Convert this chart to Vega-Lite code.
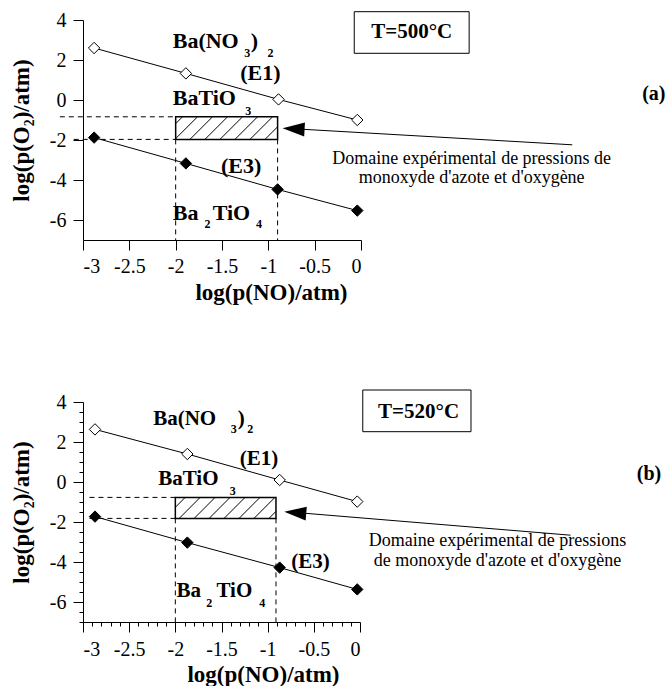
{
  "$schema": "https://vega.github.io/schema/vega-lite/v6.json",
  "padding": {"left": 10, "top": 10, "right": 0, "bottom": 0},
  "spacing": 85,
  "config": {
    "view": {"stroke": null},
    "font": "Liberation Serif",
    "axis": {"grid": false, "domainColor": "black", "tickColor": "black", "labelColor": "black", "titleColor": "black",
      "labelFont": "Liberation Serif", "titleFont": "Liberation Serif", "labelFontSize": 20, "titleFontSize": 23,
      "titleFontWeight": "bold", "tickSize": 10, "domainWidth": 1, "tickWidth": 1},
    "axisX": {"labelPadding": 6, "titlePadding": 5},
    "axisY": {"labelPadding": 7, "titlePadding": 16}
  },
  "datasets": {
    "ptsA": [
      {"s": "E1", "x": -2.88, "y": 2.6}, {"s": "E1", "x": -1.89, "y": 1.33}, {"s": "E1", "x": -0.89, "y": 0.03}, {"s": "E1", "x": -0.04, "y": -1.0},
      {"s": "E3", "x": -2.88, "y": -1.88}, {"s": "E3", "x": -1.89, "y": -3.17}, {"s": "E3", "x": -0.9, "y": -4.47}, {"s": "E3", "x": -0.04, "y": -5.53}
    ],
    "ptsB": [
      {"s": "E1", "x": -2.87, "y": 2.63}, {"s": "E1", "x": -1.87, "y": 1.4}, {"s": "E1", "x": -0.87, "y": 0.1}, {"s": "E1", "x": -0.03, "y": -0.98},
      {"s": "E3", "x": -2.87, "y": -1.73}, {"s": "E3", "x": -1.87, "y": -3.03}, {"s": "E3", "x": -0.87, "y": -4.28}, {"s": "E3", "x": -0.03, "y": -5.37}
    ],
    "dashA": [
      {"x": -3.25, "y": -0.84, "x2": -2, "y2": -0.84}, {"x": -3.1, "y": -1.97, "x2": -2, "y2": -1.97},
      {"x": -2, "y": -1.97, "x2": -2, "y2": -7}, {"x": -0.9, "y": -1.97, "x2": -0.9, "y2": -7}
    ],
    "dashB": [
      {"x": -2.93, "y": -0.77, "x2": -2, "y2": -0.77}, {"x": -2.93, "y": -1.82, "x2": -2, "y2": -1.82},
      {"x": -2, "y": -1.82, "x2": -2, "y2": -7}, {"x": -0.91, "y": -1.82, "x2": -0.91, "y2": -7}
    ],
    "boxA": [{"x": -2, "x2": -0.9, "y": -0.84, "y2": -1.97}],
    "boxB": [{"x": -2, "x2": -0.91, "y": -0.77, "y2": -1.82}],
    "hatchA": [
      {"x": -2.0, "y": -1.183, "x2": -1.926, "y2": -0.84},
      {"x": -2.0, "y": -1.93, "x2": -1.764, "y2": -0.84},
      {"x": -1.846, "y": -1.97, "x2": -1.602, "y2": -0.84},
      {"x": -1.684, "y": -1.97, "x2": -1.44, "y2": -0.84},
      {"x": -1.522, "y": -1.97, "x2": -1.278, "y2": -0.84},
      {"x": -1.36, "y": -1.97, "x2": -1.116, "y2": -0.84},
      {"x": -1.198, "y": -1.97, "x2": -0.954, "y2": -0.84},
      {"x": -1.036, "y": -1.97, "x2": -0.9, "y2": -1.34}
    ],
    "hatchB": [
      {"x": -2.0, "y": -1.265, "x2": -1.893, "y2": -0.77},
      {"x": -1.958, "y": -1.82, "x2": -1.731, "y2": -0.77},
      {"x": -1.796, "y": -1.82, "x2": -1.569, "y2": -0.77},
      {"x": -1.634, "y": -1.82, "x2": -1.407, "y2": -0.77},
      {"x": -1.472, "y": -1.82, "x2": -1.245, "y2": -0.77},
      {"x": -1.31, "y": -1.82, "x2": -1.083, "y2": -0.77},
      {"x": -1.148, "y": -1.82, "x2": -0.921, "y2": -0.77},
      {"x": -0.986, "y": -1.82, "x2": -0.91, "y2": -1.468}
    ],
    "shaftA": [{"x": 2.28, "y": -2.24, "x2": -0.8, "y2": -1.418}],
    "headA": [{"x": -0.846, "y": -1.415}],
    "shaftB": [{"x": 2.28, "y": -2.66, "x2": -0.78, "y2": -1.493}],
    "headB": [{"x": -0.82, "y": -1.49}],
    "labA": [
      {"t": "Ba(NO", "x": -2.032, "y": 2.585}, {"t": ")", "x": -1.19, "y": 2.585},
      {"t": "(E1)", "x": -1.303, "y": 1.0}, {"t": "BaTiO", "x": -2.032, "y": -0.25},
      {"t": "(E3)", "x": -1.511, "y": -3.67}, {"t": "Ba", "x": -2.032, "y": -6.0}, {"t": "TiO", "x": -1.6, "y": -6.0}
    ],
    "subA": [
      {"t": "3", "x": -1.26, "y": 2.15}, {"t": "2", "x": -1.01, "y": 2.15}, {"t": "3", "x": -1.25, "y": -0.75},
      {"t": "2", "x": -1.69, "y": -6.42}, {"t": "4", "x": -1.134, "y": -6.42}
    ],
    "labB": [
      {"t": "Ba(NO", "x": -2.24, "y": 2.85}, {"t": ")", "x": -1.325, "y": 2.85},
      {"t": "(E1)", "x": -1.303, "y": 0.85}, {"t": "BaTiO", "x": -2.186, "y": -0.15},
      {"t": "(E3)", "x": -0.744, "y": -4.32}, {"t": "Ba", "x": -1.987, "y": -5.73}, {"t": "TiO", "x": -1.555, "y": -5.73}
    ],
    "subB": [
      {"t": "3", "x": -1.4, "y": 2.45}, {"t": "2", "x": -1.22, "y": 2.45}, {"t": "3", "x": -1.41, "y": -0.65},
      {"t": "2", "x": -1.664, "y": -6.23}, {"t": "4", "x": -1.09, "y": -6.23}
    ],
    "noteA": [
      {"t": "Domaine expérimental de pressions de", "x": 1.194, "y": -3.2},
      {"t": "monoxyde d'azote et d'oxygène", "x": 1.194, "y": -4.13}
    ],
    "noteB": [
      {"t": "Domaine expérimental de pressions", "x": 1.49, "y": -3.2},
      {"t": "de monoxyde d'azote et d'oxygène", "x": 1.49, "y": -4.2}
    ],
    "tboxA": [{"x": -0.073, "x2": 1.167, "y": 4.415, "y2": 2.335}],
    "tboxB": [{"x": 0.03, "x2": 1.202, "y": 4.6, "y2": 2.515}],
    "titA": [{"t": "T=500°C", "x": 0.547, "y": 3.08}],
    "titB": [{"t": "T=520°C", "x": 0.634, "y": 3.18}],
    "tagA": [{"t": "(a)", "x": 3.16, "y": 0}],
    "tagB": [{"t": "(b)", "x": 3.13, "y": 0.1}],
    "minorX": [{"x": -3.0}, {"x": 0}]
  },
  "vconcat": [
    {
      "width": 278, "height": 220,
      "encoding": {
        "x": {"field": "x", "type": "quantitative", "scale": {"domain": [-3, 0], "nice": false, "zero": false},
          "axis": {"orient": "bottom", "values": [-3, -2.5, -2, -1.5, -1, -0.5, 0], "title": "log(p(NO)/atm)", "titleX": 188,
            "labelExpr": "'' + datum.value"}},
        "y": {"field": "y", "type": "quantitative", "scale": {"domain": [-7, 4], "nice": false, "zero": false},
          "axis": {"orient": "left", "values": [-6, -4, -2, 0, 2, 4], "title": "log(p(O₂)/atm)",
            "labelExpr": "'' + datum.value"}}
      },
      "layer": [
        {"data": {"name": "dashA"}, "mark": {"type": "rule", "color": "black", "strokeWidth": 1, "strokeDash": [5, 4]},
          "encoding": {"x2": {"field": "x2"}, "y2": {"field": "y2"}}},
        {"data": {"name": "boxA"}, "mark": {"type": "rect", "filled": false, "color": "black", "strokeWidth": 1.5},
          "encoding": {"x2": {"field": "x2"}, "y2": {"field": "y2"}}},
        {"data": {"name": "hatchA"}, "mark": {"type": "rule", "color": "black", "strokeWidth": 1},
          "encoding": {"x2": {"field": "x2"}, "y2": {"field": "y2"}}},
        {"data": {"name": "ptsA"}, "mark": {"type": "line", "color": "black", "strokeWidth": 1},
          "encoding": {"detail": {"field": "s"}}},
        {"data": {"name": "ptsA"}, "mark": {"type": "point", "shape": "diamond", "size": 130, "stroke": "black", "strokeWidth": 1, "opacity": 1},
          "encoding": {"fill": {"field": "s", "type": "nominal", "scale": {"domain": ["E1", "E3"], "range": ["white", "black"]}, "legend": null}}},
        {"data": {"name": "shaftA"}, "mark": {"type": "rule", "color": "black", "strokeWidth": 1},
          "encoding": {"x2": {"field": "x2"}, "y2": {"field": "y2"}}},
        {"data": {"name": "headA"}, "mark": {"type": "point", "shape": "M0,0L2.2,-0.7L2.2,0.7Z", "size": 400, "angle": 3.3, "filled": true, "color": "black", "opacity": 1}},
        {"data": {"name": "labA"}, "mark": {"type": "text", "align": "left", "baseline": "alphabetic", "fontWeight": "bold", "fontSize": 22, "color": "black"},
          "encoding": {"text": {"field": "t"}}},
        {"data": {"name": "subA"}, "mark": {"type": "text", "align": "left", "baseline": "alphabetic", "fontWeight": "bold", "fontSize": 12, "color": "black"},
          "encoding": {"text": {"field": "t"}}},
        {"data": {"name": "noteA"}, "mark": {"type": "text", "align": "center", "baseline": "alphabetic", "fontSize": 18, "color": "black"},
          "encoding": {"text": {"field": "t"}}},
        {"data": {"name": "tboxA"}, "mark": {"type": "rect", "filled": false, "color": "black", "strokeWidth": 1},
          "encoding": {"x2": {"field": "x2"}, "y2": {"field": "y2"}}},
        {"data": {"name": "titA"}, "mark": {"type": "text", "align": "center", "baseline": "alphabetic", "fontWeight": "bold", "fontSize": 21, "color": "black"},
          "encoding": {"text": {"field": "t"}}},
        {"data": {"name": "tagA"}, "mark": {"type": "text", "align": "center", "baseline": "alphabetic", "fontWeight": "bold", "fontSize": 20, "color": "black"},
          "encoding": {"text": {"field": "t"}}}
      ]
    },
    {
      "width": 277, "height": 220,
      "encoding": {
        "x": {"field": "x", "type": "quantitative", "scale": {"domain": [-3, 0], "nice": false, "zero": false}, "axis": null},
        "y": {"field": "y", "type": "quantitative", "scale": {"domain": [-7, 4], "nice": false, "zero": false}, "axis": null}
      },
      "resolve": {"axis": {"x": "independent", "y": "independent"}},
      "layer": [
        {"data": {"name": "dashB"}, "mark": {"type": "rule", "color": "black", "strokeWidth": 1, "strokeDash": [5, 4]},
          "encoding": {
            "x": {"field": "x", "type": "quantitative", "scale": {"domain": [-3, 0], "nice": false, "zero": false},
              "axis": {"orient": "bottom", "values": [-3, -2.5, -2, -1.5, -1, -0.5, 0], "title": "log(p(NO)/atm)", "titleX": 180,
                "labelPadding": 7, "titlePadding": 4, "labelExpr": "'' + datum.value"}},
            "y": {"field": "y", "type": "quantitative", "scale": {"domain": [-7, 4], "nice": false, "zero": false},
              "axis": {"orient": "left", "values": [-6, -4, -2, 0, 2, 4], "title": "log(p(O₂)/atm)",
                "labelExpr": "'' + datum.value"}},
            "x2": {"field": "x2"}, "y2": {"field": "y2"}}},
        {"data": {"name": "minorX"}, "mark": {"type": "point", "opacity": 0},
          "encoding": {
            "x": {"field": "x", "type": "quantitative", "axis": {"orient": "bottom", "values": [-3, -2.9, -2.8, -2.7, -2.6, -2.4, -2.3, -2.2, -2.1, -1.9, -1.8, -1.7, -1.6, -1.4, -1.3, -1.2, -1.1, -0.9, -0.8, -0.7, -0.6, -0.4, -0.3, -0.2, -0.1], "tickSize": 4, "labels": false, "domain": false, "title": null}},
            "y": {"datum": 0, "type": "quantitative", "axis": {"orient": "left", "values": [3.5, 3, 2.5, 1.5, 1, 0.5, -0.5, -1, -1.5, -2.5, -3, -3.5, -4.5, -5, -5.5, -6.5, -7], "tickSize": 4, "labels": false, "domain": false, "title": null}}
          }},
        {"data": {"name": "boxB"}, "mark": {"type": "rect", "filled": false, "color": "black", "strokeWidth": 1.5},
          "encoding": {"x2": {"field": "x2"}, "y2": {"field": "y2"}}},
        {"data": {"name": "hatchB"}, "mark": {"type": "rule", "color": "black", "strokeWidth": 1},
          "encoding": {"x2": {"field": "x2"}, "y2": {"field": "y2"}}},
        {"data": {"name": "ptsB"}, "mark": {"type": "line", "color": "black", "strokeWidth": 1},
          "encoding": {"detail": {"field": "s"}}},
        {"data": {"name": "ptsB"}, "mark": {"type": "point", "shape": "diamond", "size": 130, "stroke": "black", "strokeWidth": 1, "opacity": 1},
          "encoding": {"fill": {"field": "s", "type": "nominal", "scale": {"domain": ["E1", "E3"], "range": ["white", "black"]}, "legend": null}}},
        {"data": {"name": "shaftB"}, "mark": {"type": "rule", "color": "black", "strokeWidth": 1},
          "encoding": {"x2": {"field": "x2"}, "y2": {"field": "y2"}}},
        {"data": {"name": "headB"}, "mark": {"type": "point", "shape": "M0,0L2.2,-0.7L2.2,0.7Z", "size": 400, "angle": 4.8, "filled": true, "color": "black", "opacity": 1}},
        {"data": {"name": "labB"}, "mark": {"type": "text", "align": "left", "baseline": "alphabetic", "fontWeight": "bold", "fontSize": 21, "color": "black"},
          "encoding": {"text": {"field": "t"}}},
        {"data": {"name": "subB"}, "mark": {"type": "text", "align": "left", "baseline": "alphabetic", "fontWeight": "bold", "fontSize": 12, "color": "black"},
          "encoding": {"text": {"field": "t"}}},
        {"data": {"name": "noteB"}, "mark": {"type": "text", "align": "center", "baseline": "alphabetic", "fontSize": 18, "color": "black"},
          "encoding": {"text": {"field": "t"}}},
        {"data": {"name": "tboxB"}, "mark": {"type": "rect", "filled": false, "color": "black", "strokeWidth": 1},
          "encoding": {"x2": {"field": "x2"}, "y2": {"field": "y2"}}},
        {"data": {"name": "titB"}, "mark": {"type": "text", "align": "center", "baseline": "alphabetic", "fontWeight": "bold", "fontSize": 21, "color": "black"},
          "encoding": {"text": {"field": "t"}}},
        {"data": {"name": "tagB"}, "mark": {"type": "text", "align": "center", "baseline": "alphabetic", "fontWeight": "bold", "fontSize": 20, "color": "black"},
          "encoding": {"text": {"field": "t"}}}
      ]
    }
  ]
}
